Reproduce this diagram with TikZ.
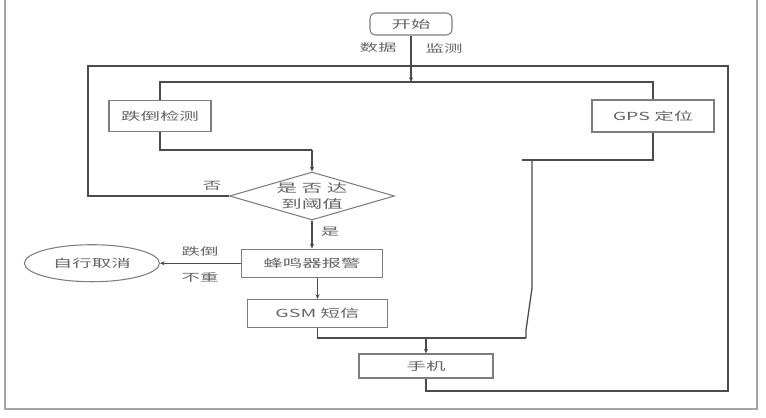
\documentclass[tikz,border=0pt]{standalone}
\usepackage{fontspec}
\newfontfamily\cjk{Noto Sans CJK SC}[FakeStretch=1.75]
\usepackage{tikz}
\usetikzlibrary{arrows.meta, positioning, shapes.geometric, calc}
\usepackage{xcolor}
\definecolor{cinza}{RGB}{125,125,125}
\definecolor{escuro}{RGB}{75,75,75}
\definecolor{texto}{RGB}{100,100,100}
\definecolor{cinzaclaro}{RGB}{165,165,165}
\tikzset{
  caixa/.style={
    draw=cinza, line width=0.9pt, minimum height=0.85cm,
    font=\cjk\fontsize{9.5}{12}\selectfont, text=texto, text centered, inner sep=2pt
  },
  caixaR/.style={caixa, rounded corners=5pt},
  oval/.style={caixa, ellipse},
  decisao/.style={caixa, diamond, aspect=3.4, inner sep=0pt, align=center,
    font=\cjk\fontsize{10}{13}\selectfont},
  rotulo/.style={font=\cjk\fontsize{9}{11}\selectfont, text=texto, inner sep=1pt},
  linha/.style={escuro, line width=1.1pt},
  seta/.style={linha, -{Stealth[length=4pt, width=3.5pt]}},
  borda/.style={draw=cinzaclaro, line width=1.6pt},
}

\begin{document}
\begin{tikzpicture}[x=0.03cm, y=-0.03cm]
        \useasboundingbox (0,0) rectangle (766,417);
        \draw[borda] (5,0) -- (5,409) -- (757,409) -- (757,0);

        \node[caixaR, minimum width=2.46cm, minimum height=0.66cm] (inicio) at (411,24) {开始};
        \node[caixa, minimum width=3.06cm, minimum height=0.93cm] (queda) at (160,116) {跌倒检测};
        \node[caixa, minimum width=3.66cm, minimum height=0.96cm] (gps) at (653,116) {GPS 定位};

        \node[decisao, minimum width=4.95cm, minimum height=1.44cm] (limiar) at (312,196)
          {是 否 达\\到阈值};

        \node[caixa, minimum width=4.23cm, below=0.84cm of limiar] (alarme) {蜂鸣器报警};
        \node[caixa, minimum width=4.2cm, below right=0.63cm and -4.08cm of alarme] (gsm) {GSM 短信};
        \node[oval, minimum width=4.05cm, minimum height=1.11cm, left=2.43cm of alarme] (cancela) {自行取消};
        \node[caixa, minimum width=4.02cm, minimum height=0.72cm] (celular) at (426,366) {手机};

        \node[rotulo] (ldados) at (378,48) {数据};
        \node[rotulo] (lmonit) at (444,48) {监测};
        \node[rotulo] (lnao) at (212,186) {否};
        \node[rotulo] (lsim) at (330,232) {是};
        \node[rotulo] (lqueda) at (200,252) {跌倒};
        \node[rotulo] (lleve) at (200,278) {不重};

        \coordinate (cima) at (411,82);
        \coordinate (baseE) at (312,150);
        \coordinate (baseD) at (522,160);
        \coordinate (desvio) at (532,288);
        \coordinate (juncao) at (526,338);
        \coordinate (meio) at (426,338);
        \coordinate (cantoE) at (88,66);
        \coordinate (cantoD) at (728,391);

        \draw[seta] (inicio.south) -- (cima);
        \draw[linha] (queda.north) |- (cima) -| (gps.north);
        \draw[linha] (queda.south) |- (baseE);
        \draw[seta] (baseE) -- (limiar.north);
        \draw[linha] (gps.south) |- (baseD);
        \draw[linha] (baseD -| desvio) -- (desvio) -- (526,330) -- (juncao);
        \draw[seta] (limiar.south) -- (alarme.north);
        \draw[seta] (alarme.west) -- (cancela.east);
        \draw[seta] (alarme.south -| gsm.north) -- (gsm.north);
        \draw[linha] (gsm.south) |- (juncao);
        \draw[seta] (meio) -- (celular.north);
        \draw[linha] (limiar.west) -| (cantoE) -| (cantoD) -| (celular.south);
      \end{tikzpicture}
\end{document}
